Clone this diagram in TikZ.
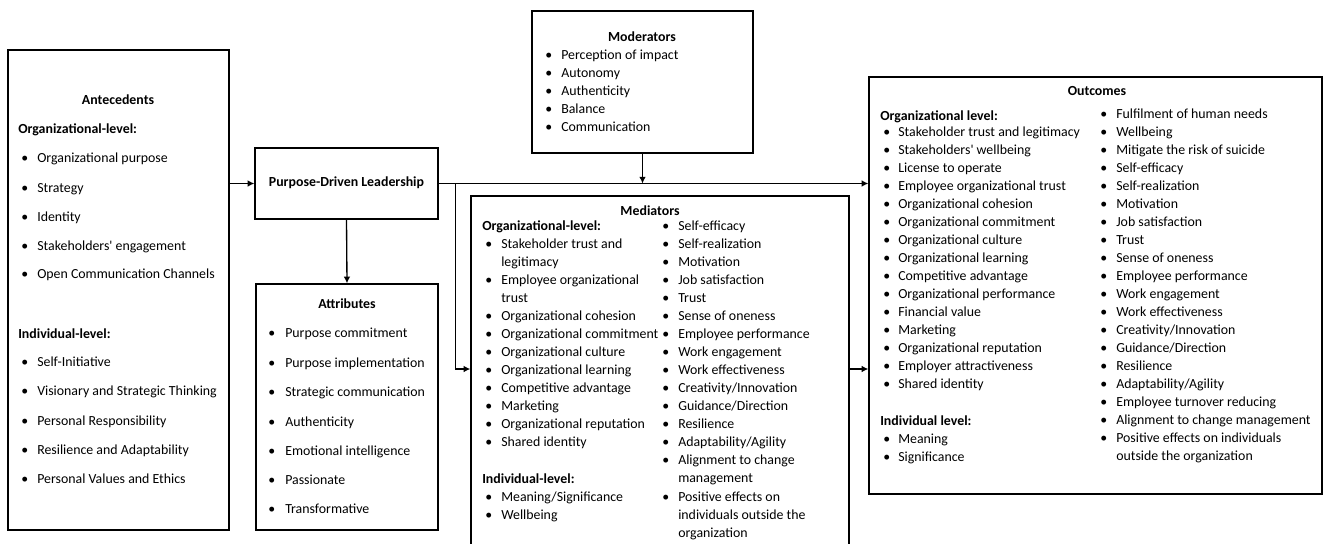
\documentclass[tikz,border=0pt]{standalone}
\usepackage{fontspec}
\setmainfont{Carlito}
\usetikzlibrary{arrows.meta,fit}
\tikzset{
  box/.style={draw, line width=1pt, inner sep=0pt},
  lbl/.style={font=\fontsize{10.4pt}{13.5pt}\selectfont, inner sep=0pt, anchor=mid west},
  hdr/.style={font=\fontsize{10.4pt}{13.5pt}\selectfont\bfseries, inner sep=0pt, anchor=mid},
  sublbl/.style={font=\fontsize{10.4pt}{13.5pt}\selectfont\bfseries, inner sep=0pt, anchor=mid west},
  conn/.style={line width=1pt, -{Latex[length=5pt,width=5pt]}},
  wire/.style={line width=1pt},
}
% name, x bullet, x text, y, text
\newcommand{\bitem}[5]{%
  \node[lbl] (#1-b) at (#2,#4) {•};
  \node[lbl] (#1) at (#3,#4) {#5};
}
% continuation line: name, x text, y, text
\newcommand{\citem}[4]{%
  \node[lbl] (#1) at (#2,#3) {#4};
}
\begin{document}
\begin{tikzpicture}[x=0.75pt,y=-0.75pt]
\useasboundingbox (0,0) rectangle (1325,543);

% ---------- boxes ----------
\node[box, fit={(8,50) (229,530)}] (ant) {};
\node[box, fit={(255,148) (438,219)}] (pdl) {};
\node[box, fit={(256,284) (438,530)}] (attr) {};
\node[box, fit={(532,11) (753,153)}] (mod) {};
\node[box, fit={(471,196) (849,570)}] (med) {};
\node[box, fit={(869,77) (1322,494)}] (out) {};

% ---------- Antecedents ----------
\node[hdr] (antH) at (118,101) {Antecedents};
\node[sublbl] (antO) at (18,130) {Organizational-level:};
\foreach \y/\t [count=\i] in {159/Organizational purpose, 189/Strategy, 218/Identity,
  247/Stakeholders\textquotesingle{} engagement, 275/Open Communication Channels}
  {\bitem{antA\i}{21}{37}{\y}{\t}}
\node[sublbl] (antI) at (18,335) {Individual-level:};
\foreach \y/\t [count=\i] in {363/Self-Initiative, 392/Visionary and Strategic Thinking,
  422/Personal Responsibility, 451/Resilience and Adaptability, 480/Personal Values and Ethics}
  {\bitem{antB\i}{21}{37}{\y}{\t}}

% ---------- PDL ----------
\node[hdr] (pdlT) at (pdl.center) {Purpose-Driven Leadership};

% ---------- Attributes ----------
\node[hdr] (attrH) at (347,305) {Attributes};
\foreach \y/\t [count=\i] in {334/Purpose commitment, 364/Purpose implementation,
  393/Strategic communication, 423/Authenticity, 452/Emotional intelligence,
  481/Passionate, 510/Transformative}
  {\bitem{attr\i}{268}{285}{\y}{\t}}

% ---------- Moderators ----------
\node[hdr] (modH) at (642,38) {Moderators};
\foreach \y/\t [count=\i] in {56/Perception of impact, 74/Autonomy, 92/Authenticity,
  110/Balance, 128/Communication}
  {\bitem{mod\i}{545}{561}{\y}{\t}}

% ---------- Mediators ----------
\node[hdr] (medH) at (650,212) {Mediators};
\node[sublbl] (medO) at (482,227) {Organizational-level:};
\bitem{medL1}{485}{501}{245}{Stakeholder trust and}
\citem{medL1c}{501}{263}{legitimacy}
\bitem{medL2}{485}{501}{281}{Employee organizational}
\citem{medL2c}{501}{299}{trust}
\foreach \y/\t [count=\i from 3] in {317/Organizational cohesion, 335/Organizational commitment,
  353/Organizational culture, 371/Organizational learning, 389/Competitive advantage,
  407/Marketing, 425/Organizational reputation, 443/Shared identity}
  {\bitem{medL\i}{485}{501}{\y}{\t}}
\node[sublbl] (medI) at (482,480) {Individual-level:};
\bitem{medI1}{485}{501}{498}{Meaning/Significance}
\bitem{medI2}{485}{501}{516}{Wellbeing}
\foreach \y/\t [count=\i] in {227/Self-efficacy, 245/Self-realization, 263/Motivation,
  281/Job satisfaction, 299/Trust, 317/Sense of oneness, 335/Employee performance,
  353/Work engagement, 371/Work effectiveness, 389/{Creativity/Innovation},
  407/{Guidance/Direction}, 425/Resilience, 443/{Adaptability/Agility}}
  {\bitem{medR\i}{662}{678}{\y}{\t}}
\bitem{medR14}{662}{678}{461}{Alignment to change}
\citem{medR14c}{678}{479}{management}
\bitem{medR15}{662}{678}{498}{Positive effects on}
\citem{medR15c}{678}{516}{individuals outside the}
\citem{medR15d}{678}{534}{organization}

% ---------- Outcomes ----------
\node[hdr] (outH) at (1097,92) {Outcomes};
\node[sublbl] (outO) at (880,117) {Organizational level:};
\foreach \y/\t [count=\i] in {133/Stakeholder trust and legitimacy, 151/Stakeholders\textquotesingle{} wellbeing,
  169/License to operate, 187/Employee organizational trust, 205/Organizational cohesion,
  223/Organizational commitment, 241/Organizational culture, 259/Organizational learning,
  277/Competitive advantage, 295/Organizational performance, 313/Financial value,
  331/Marketing, 349/Organizational reputation, 367/Employer attractiveness, 385/Shared identity}
  {\bitem{outL\i}{883}{898}{\y}{\t}}
\node[sublbl] (outI) at (880,422) {Individual level:};
\bitem{outI1}{883}{898}{440}{Meaning}
\bitem{outI2}{883}{898}{458}{Significance}
\foreach \y/\t [count=\i] in {115/Fulfilment of human needs, 133/Wellbeing,
  151/Mitigate the risk of suicide, 169/Self-efficacy, 187/Self-realization, 205/Motivation,
  223/Job satisfaction, 241/Trust, 259/Sense of oneness, 277/Employee performance,
  295/Work engagement, 313/Work effectiveness, 331/{Creativity/Innovation},
  349/{Guidance/Direction}, 367/Resilience, 385/{Adaptability/Agility},
  403/Employee turnover reducing, 421/Alignment to change management,
  439/Positive effects on individuals}
  {\bitem{outR\i}{1100}{1116}{\y}{\t}}
\citem{outR19c}{1116}{457}{outside the organization}

% ---------- connectors ----------
\path (pdl.east) ++(17,0) coordinate (split);
\coordinate (medin) at (split |- 0,369);
\draw[conn] (ant.east |- pdl.west) -- (pdl.west);
\draw[conn] (pdl.south) -- (attr.north);
\draw[conn] (pdl.east) -- (out.west |- pdl.east);
\draw[conn] (mod.south) -- (mod.south |- pdl.east);
\draw[conn] (split) |- (med.west |- medin);
\draw[conn] (med.east |- medin) -- (out.west |- medin);
\end{tikzpicture}
\end{document}
